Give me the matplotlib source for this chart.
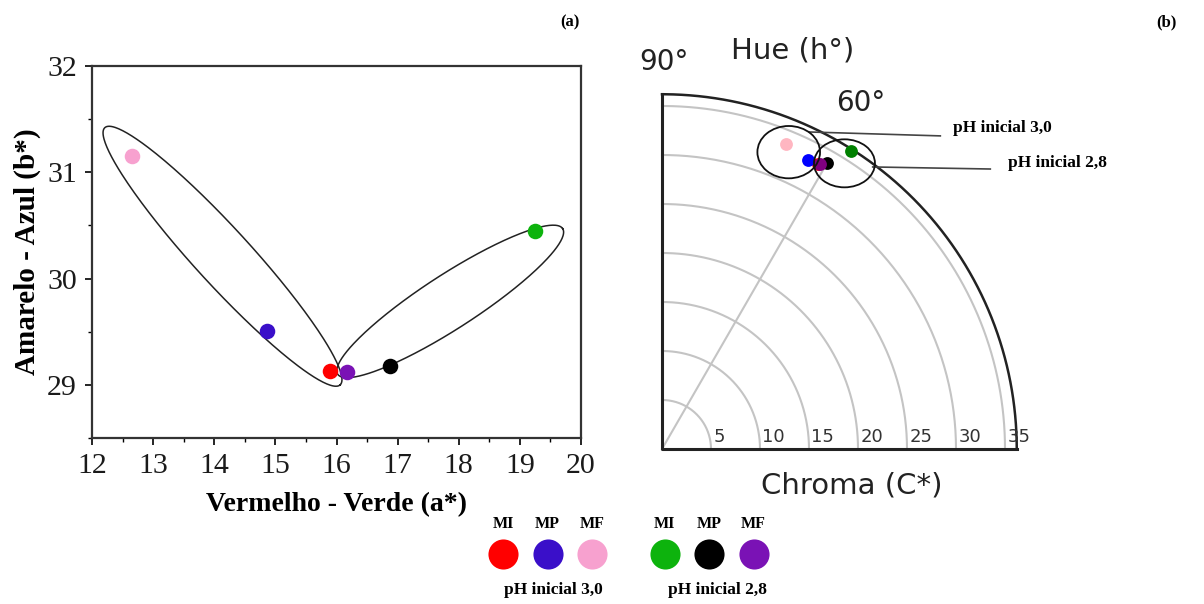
import numpy as np
import matplotlib
matplotlib.use('Agg')
import matplotlib.pyplot as plt
from matplotlib.patches import Ellipse
from matplotlib.ticker import MultipleLocator

# colour data (CIELAB) for each sample
samples = ['MI', 'MP', 'MF', 'MI', 'MP', 'MF']
groups = ['pH inicial 3,0', 'pH inicial 3,0', 'pH inicial 3,0',
          'pH inicial 2,8', 'pH inicial 2,8', 'pH inicial 2,8']
a_star = [15.90, 14.87, 12.65, 19.25, 16.88, 16.17]
b_star = [29.13, 29.51, 31.15, 30.45, 29.18, 29.12]
colors_a = ['#ff0000', '#3a0fc9', '#f7a1cf', '#0db30d', '#000000', '#7a12b5']
colors_b = ['#ff0000', '#0000ff', '#ffb6c1', '#008000', '#000000', '#800080']

chroma_rings = [5, 10, 15, 20, 25, 30, 35]
hue_line = 60

serif = 'Liberation Serif'
sans = 'DejaVu Sans'

W, H = 1204, 604
fig = plt.figure(figsize=(W / 100, H / 100), dpi=100)

def px_axes(x0, y0, x1, y1):
    # axes from pixel box (top-left origin)
    return fig.add_axes([x0 / W, 1 - y1 / H, (x1 - x0) / W, (y1 - y0) / H])

# ================= (a) a* vs b* =================
ax = px_axes(92, 66, 581, 438)
for i in range(len(a_star)):
    ax.scatter(a_star[i], b_star[i], s=125, color=colors_a[i], zorder=3, linewidths=0)
ax.set_xlim(12, 20)
ax.set_ylim(28.5, 32)
ax.set_xticks(range(12, 21))
ax.set_yticks([29, 30, 31, 32])
ax.xaxis.set_minor_locator(MultipleLocator(0.5))
ax.yaxis.set_minor_locator(MultipleLocator(0.5))
ax.tick_params(which='major', direction='out', length=5, width=1.2, labelsize=21.5, pad=6)
ax.tick_params(which='minor', direction='out', length=3, width=1.0)
for lab in ax.get_xticklabels() + ax.get_yticklabels():
    lab.set_family(serif)
    lab.set_color('#1a1a1a')
for s in ax.spines.values():
    s.set_linewidth(1.6)
    s.set_color('#333333')
ax.set_xlabel('Vermelho - Verde (a*)', family=serif, weight='bold', fontsize=20, labelpad=9)
ax.set_ylabel('Amarelo - Azul (b*)', family=serif, weight='bold', fontsize=21, labelpad=4)

def lobe(p1, p2, half_w):
    t1 = ax.transData.transform(p1)
    t2 = ax.transData.transform(p2)
    c = (t1 + t2) / 2
    d = t2 - t1
    L = np.hypot(*d) / 2
    u = d / (2 * L)
    v = np.array([-u[1], u[0]])
    th = np.linspace(0, 2 * np.pi, 300)
    pts = c + L * np.cos(th)[:, None] * u + half_w * np.sin(th)[:, None] * v
    dat = ax.transData.inverted().transform(pts)
    ax.plot(dat[:, 0], dat[:, 1], color='#222222', lw=1.1, zorder=2)

lobe((12.21, 31.42), (16.06, 29.0), 28)
lobe((16.02, 29.10), (19.70, 30.47), 27)

fig.text(570 / W, 1 - 22 / H, '(a)', family=serif, weight='bold', fontsize=12, ha='center', va='center')
fig.text(1166 / W, 1 - 22 / H, '(b)', family=serif, weight='bold', fontsize=12, ha='center', va='center')

# ================= (b) chroma / hue diagram =================
k = 9.8  # px per unit
bx = px_axes(630, 40, 1190, 500)
bx.set_xlim(-32 / k, 528 / k)
bx.set_ylim(-51 / k, 409 / k)
bx.axis('off')

th = np.linspace(0, np.pi / 2, 200)
for r in chroma_rings:
    bx.plot(r * np.cos(th), r * np.sin(th), color='#c4c4c4', lw=1.5, zorder=1)
    bx.text(r + 0.25, 0.35, str(r), fontsize=13, family=sans, color='#333333',
            ha='left', va='bottom')
R = 36.2
bx.plot(R * np.cos(th), R * np.sin(th), color='#222222', lw=1.8, zorder=2)
bx.plot([0, 0, R], [R, 0, 0], color='#222222', lw=2.2, zorder=2)
hr = np.radians(hue_line)
bx.plot([0, 33 * np.cos(hr)], [0, 33 * np.sin(hr)], color='#c4c4c4', lw=1.5, zorder=1)

for i in range(len(a_star)):
    bx.scatter(a_star[i], b_star[i], s=85, color=colors_b[i], zorder=4, linewidths=0)

bx.add_patch(Ellipse((12.93, 30.29), 6.39, 5.34, fill=False, ec='#111111', lw=1.3, zorder=5))
bx.add_patch(Ellipse((18.62, 29.15), 6.22, 4.90, fill=False, ec='#111111', lw=1.3, zorder=5))
bx.plot([15.0, 28.4], [32.35, 31.95], color='#444444', lw=1.2)
bx.plot([21.5, 33.5], [28.78, 28.57], color='#444444', lw=1.2)
bx.text(29.7, 32.76, groups[0], family=serif, weight='bold', fontsize=12.5, ha='left', va='center')
bx.text(35.3, 29.18, groups[3], family=serif, weight='bold', fontsize=12.5, ha='left', va='center')

bx.text(-2.3, 39.5, '90\u00b0', fontsize=20, family=sans, ha='left', va='center', color='#222222')
bx.text(7.0, 40.7, 'Hue (h\u00b0)', fontsize=21, family=sans, ha='left', va='center', color='#222222')
bx.text(17.8, 35.3, '60\u00b0', fontsize=20, family=sans, ha='left', va='center', color='#222222')
bx.text(19.4, -3.7, 'Chroma (C*)', fontsize=21, family=sans, ha='center', va='center', color='#222222')

# ================= legend =================
lx = px_axes(460, 500, 800, 604)
lx.set_xlim(460, 800)
lx.set_ylim(604, 500)
lx.axis('off')
for i in range(len(samples)):
    x = 503 + 44.5 * i + (28 if i >= 3 else 0)
    lx.scatter(x, 554, s=470, color=colors_a[i], linewidths=0)
    lx.text(x, 524, samples[i], family=serif, weight='bold', fontsize=11.5, ha='center', va='center')
lx.text(553, 590, groups[0], family=serif, weight='bold', fontsize=12.5, ha='center', va='center')
lx.text(717, 590, groups[3], family=serif, weight='bold', fontsize=12.5, ha='center', va='center')

fig.savefig('out.png', dpi=100)
